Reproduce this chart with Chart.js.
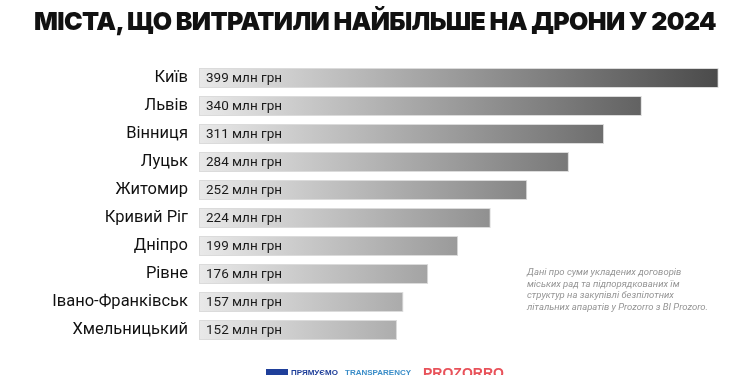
<!DOCTYPE html>
<html>
<head>
<meta charset="utf-8">
<script src="https://cdn.jsdelivr.net/npm/chart.js@4/dist/chart.umd.min.js"></script>
<style>
  html, body { margin: 0; padding: 0; background: #fff; }
  #wrap { position: relative; width: 750px; height: 375px; overflow: hidden; }
  #title {
    position: absolute; left: 0; top: 6px; width: 750px; text-align: center;
    font-family: 'Inter', sans-serif; font-weight: 900; font-size: 25px;
    letter-spacing: -0.65px; color: #111;
  }
  #note {
    position: absolute; left: 527px; top: 266px; width: 220px; white-space: nowrap;
    font-family: 'Roboto', sans-serif; font-style: italic; font-size: 9.5px;
    line-height: 11.5px; color: #959595;
  }
  #logos { position: absolute; top: 368px; left: 266px; font-family: 'Liberation Sans Narrow', sans-serif; font-size: 8px; }
  #logos span { position: absolute; white-space: nowrap; }
  canvas { position: absolute; left: 0; top: 0; }
</style>
</head>
<body>
<div id="wrap">
  <canvas id="c" width="750" height="375"></canvas>
  <div id="title">МІСТА, ЩО ВИТРАТИЛИ НАЙБІЛЬШЕ НА ДРОНИ У 2024</div>
  <div id="note">Дані про суми укладених договорів<br>міських рад та підпорядкованих їм<br>структур на закупівлі безпілотних<br>літальних апаратів у Prozorro з BI Prozoro.</div>
  <div id="logos">
    <span style="left:0;top:1px;width:22px;height:8px;background:#1f3f9a"></span>
    <span style="left:25px;top:0;color:#1f3f9a;font-weight:bold">ПРЯМУЄМО</span>
    <span style="left:79px;top:0;color:#3a8dc8;font-weight:bold">TRANSPARENCY</span>
    <span style="left:157px;top:-3px;color:#e8525a;font-weight:bold;font-size:14px">PROZORRO</span>
  </div>
</div>
<script>
// Data
const cities = ['Київ', 'Львів', 'Вінниця', 'Луцьк', 'Житомир', 'Кривий Ріг', 'Дніпро', 'Рівне', 'Івано-Франківськ', 'Хмельницький'];
const spending = [399, 340, 311, 284, 252, 224, 199, 176, 157, 152];
const unit = 'млн грн';

// bar fill: one gradient across the whole chart area
const barFill = (ctx) => {
    const area = ctx.chart.chartArea;
    if (!area) return '#999';
    const g = ctx.chart.ctx.createLinearGradient(area.left, 0, area.right, 0);
    g.addColorStop(0, '#e9e9e9');
    g.addColorStop(1, '#4a4a4a');
    return g;
};

// value labels inside the bars
const valueLabels = {
    id: 'valueLabels',
    afterDatasetsDraw(chart) {
        const ctx = chart.ctx;
        const meta = chart.getDatasetMeta(0);
        ctx.save();
        ctx.font = "13.5px 'Roboto', sans-serif";
        ctx.fillStyle = '#1a1a1a';
        ctx.textBaseline = 'middle';
        meta.data.forEach((bar, i) => {
            ctx.fillText(`${spending[i]} ${unit}`, bar.base + 7, bar.y + 1);
        });
        ctx.restore();
    }
};

new Chart(document.getElementById('c'), {
    type: 'bar',
    data: {
        labels: cities,
        datasets: [{
            data: spending,
            backgroundColor: barFill,
            borderColor: 'rgba(210,210,210,0.8)',
            borderWidth: 1,
            borderSkipped: false,
            categoryPercentage: 1,
            barPercentage: 0.72
        }]
    },
    options: {
        indexAxis: 'y',
        responsive: false,
        animation: false,
        layout: { padding: { left: 0, right: 30, top: 64, bottom: 31 } },
        plugins: { legend: { display: false }, tooltip: { enabled: false } },
        scales: {
            x: { display: false, min: 0, max: 400 },
            y: {
                grid: { display: false },
                border: { display: false },
                ticks: {
                    color: '#111',
                    padding: 3,
                    font: { family: "'Roboto', sans-serif", size: 16.5 }
                },
                afterFit: (s) => { s.width = 199; }
            }
        }
    },
    plugins: [valueLabels]
});
</script>
</body>
</html>
